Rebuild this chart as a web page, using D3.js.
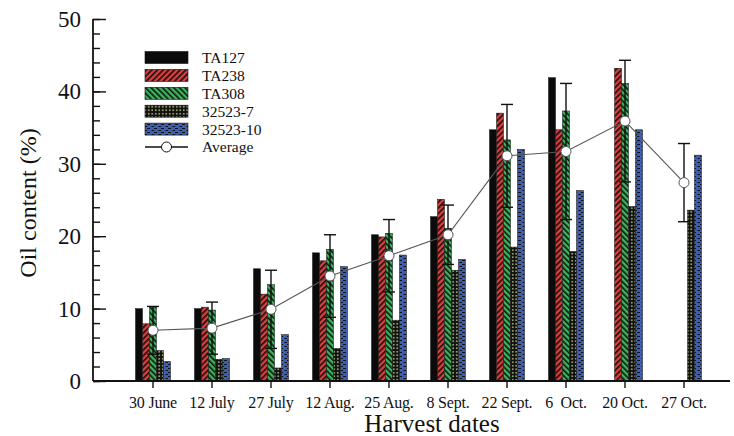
<!DOCTYPE html>
<html>
<head>
<meta charset="utf-8">
<script src="https://cdn.jsdelivr.net/npm/d3@7"></script>
<style>
  body { margin: 0; background: #fff; }
  svg { display: block; }
  text { font-family: "Liberation Serif", "Times New Roman", serif; fill: #111; }
  .domain { stroke: #111; stroke-width: 1.6; }
</style>
</head>
<body>
<div id="chart"></div>
<script>
// values (null = no bar)
const dates = ["30 June", "12 July", "27 July", "12 Aug.", "25 Aug.", "8 Sept.", "22 Sept.", "6  Oct.", "20 Oct.", "27 Oct."];
const seriesNames = ["TA127", "TA238", "TA308", "32523-7", "32523-10"];
const ta127 = [10.0, 10.0, 15.5, 17.7, 20.2, 22.7, 34.7, 41.9, null, null];
const ta238 = [7.9, 10.2, 12.0, 16.6, 19.9, 25.1, 37.0, 34.7, 43.2, null];
const ta308 = [10.2, 9.8, 13.3, 18.2, 20.4, 21.1, 33.3, 37.3, 41.1, null];
const s32523_7 = [4.2, 3.0, 1.8, 4.5, 8.4, 15.3, 18.5, 17.9, 24.1, 23.6];
const s32523_10 = [2.7, 3.1, 6.4, 15.8, 17.4, 16.8, 32.0, 26.3, 34.7, 31.2];
const average = [7.0, 7.3, 9.9, 14.5, 17.3, 20.2, 31.1, 31.7, 35.9, 27.4];
const averageErr = [3.3, 3.6, 5.4, 5.7, 5.0, 4.1, 7.1, 9.4, 8.4, 5.4];
const yTicks = [0, 10, 20, 30, 40, 50];

const width = 734, height = 436;
const seriesValues = [ta127, ta238, ta308, s32523_7, s32523_10];
const fills = ["#0b0b0b", "url(#pRed)", "url(#pGreen)", "url(#pDots)", "url(#pBlue)"];

const svg = d3.select("#chart").append("svg")
  .attr("width", width)
  .attr("height", height);

// patterns for the hatched bars
const defs = svg.append("defs");
let pr = defs.append("pattern").attr("id", "pRed").attr("patternUnits", "userSpaceOnUse")
  .attr("width", 4).attr("height", 4).attr("patternTransform", "rotate(45)");
pr.append("rect").attr("width", 4).attr("height", 4).attr("fill", "#d8413f");
pr.append("rect").attr("width", 1.6).attr("height", 4).attr("fill", "#1a0a0a");

let pg = defs.append("pattern").attr("id", "pGreen").attr("patternUnits", "userSpaceOnUse")
  .attr("width", 4).attr("height", 4).attr("patternTransform", "rotate(-45)");
pg.append("rect").attr("width", 4).attr("height", 4).attr("fill", "#3fb35e");
pg.append("rect").attr("width", 1.6).attr("height", 4).attr("fill", "#0a140c");

let pd = defs.append("pattern").attr("id", "pDots").attr("patternUnits", "userSpaceOnUse")
  .attr("width", 3.5).attr("height", 3.5);
pd.append("rect").attr("width", 3.5).attr("height", 3.5).attr("fill", "#111");
pd.append("circle").attr("cx", 1.75).attr("cy", 1.75).attr("r", 0.8).attr("fill", "#c9d98c");

let pb = defs.append("pattern").attr("id", "pBlue").attr("patternUnits", "userSpaceOnUse")
  .attr("width", 7).attr("height", 4);
pb.append("rect").attr("width", 7).attr("height", 4).attr("fill", "#3c5fb4");
pb.append("rect").attr("x", 0).attr("y", 0).attr("width", 3).attr("height", 1).attr("fill", "#111");
pb.append("rect").attr("x", 4.5).attr("y", 2).attr("width", 2.5).attr("height", 1).attr("fill", "#111");

// scales
let xScale = d3.scaleBand()
  .domain(dates)
  .range([123.5, 713.5])
  .padding(0);
let inner = d3.scaleBand()
  .domain(seriesNames)
  .range([-17.5, 17.5])
  .padding(0);
let yScale = d3.scaleLinear()
  .domain([0, 50])
  .range([381, 19]);
const cx = d => xScale(d) + xScale.bandwidth() / 2;

// bars
seriesNames.forEach(function (name, si) {
  let rows = dates.map((d, i) => ({ date: d, v: seriesValues[si][i] })).filter(r => r.v != null);
  svg.append("g").selectAll("rect")
    .data(rows)
    .enter().append("rect")
    .attr("x", r => cx(r.date) + inner(name))
    .attr("y", r => yScale(r.v))
    .attr("width", inner.bandwidth())
    .attr("height", r => yScale(0) - yScale(r.v))
    .attr("fill", fills[si])
    .attr("stroke", "#111")
    .attr("stroke-width", 0.5);
});

// error bars on the average
let eg = svg.append("g").attr("stroke", "#111").attr("stroke-width", 1.4);
dates.forEach(function (d, i) {
  let x = cx(d), top = yScale(average[i] + averageErr[i]), bot = yScale(average[i] - averageErr[i]);
  eg.append("line").attr("x1", x).attr("x2", x).attr("y1", top).attr("y2", bot);
  eg.append("line").attr("x1", x - 6).attr("x2", x + 6).attr("y1", top).attr("y2", top);
  eg.append("line").attr("x1", x - 6).attr("x2", x + 6).attr("y1", bot).attr("y2", bot);
});

// average line + circles
let line = d3.line().x((v, i) => cx(dates[i])).y(v => yScale(v));
svg.append("path")
  .attr("d", line(average))
  .attr("fill", "none")
  .attr("stroke", "#555")
  .attr("stroke-width", 1.1);
svg.append("g").selectAll("circle")
  .data(average)
  .enter().append("circle")
  .attr("cx", (v, i) => cx(dates[i]))
  .attr("cy", v => yScale(v))
  .attr("r", 5)
  .attr("fill", "#fff")
  .attr("stroke", "#555")
  .attr("stroke-width", 1);

// y axis: major ticks every 10, minor every 2, pointing inward
let yAxis = svg.append("g").attr("transform", "translate(93,0)");
yAxis.call(d3.axisRight(yScale).tickValues(d3.range(0, 51, 2)).tickSize(7).tickFormat(""));
yAxis.selectAll(".tick line").attr("stroke", "#111").attr("stroke-width", 1.4);
yAxis.select(".domain").remove();
let yMajor = svg.append("g").attr("transform", "translate(93,0)");
yMajor.call(d3.axisRight(yScale).tickValues(yTicks).tickSize(13).tickFormat(""));
yMajor.selectAll(".tick line").attr("stroke", "#111").attr("stroke-width", 1.4);
yMajor.select(".domain").remove();
svg.append("line").attr("x1", 93).attr("x2", 93).attr("y1", yScale(50)).attr("y2", yScale(0))
  .attr("stroke", "#111").attr("stroke-width", 1.8);
svg.append("g").selectAll("text")
  .data(yTicks)
  .enter().append("text")
  .attr("x", 81)
  .attr("y", d => yScale(d))
  .attr("dy", "0.35em")
  .attr("text-anchor", "end")
  .style("font-size", "23px")
  .text(d => d);

// x axis
svg.append("line").attr("x1", 93).attr("x2", 730).attr("y1", 381).attr("y2", 381)
  .attr("stroke", "#111").attr("stroke-width", 1.8);
let xAxis = svg.append("g").attr("transform", "translate(0,381)")
  .call(d3.axisBottom(xScale).tickSize(7).tickPadding(9));
xAxis.select(".domain").remove();
xAxis.selectAll(".tick line").attr("stroke", "#111").attr("stroke-width", 1.4);
xAxis.selectAll(".tick text")
  .style("font-size", "16px")
  .style("font-family", "\"Liberation Serif\", serif")
  .style("letter-spacing", "-0.2px")
  .attr("fill", "#111")
  .style("white-space", "pre");

// axis titles
svg.append("text")
  .attr("x", 432)
  .attr("y", 432)
  .attr("text-anchor", "middle")
  .style("font-size", "25px")
  .text("Harvest dates");
svg.append("text")
  .attr("transform", "rotate(-90)")
  .attr("x", -203)
  .attr("y", 36)
  .attr("text-anchor", "middle")
  .style("font-size", "24px")
  .text("Oil content (%)");

// legend
let legend = svg.append("g");
let rowY = i => 57.5 + i * 17.9;
seriesNames.forEach(function (name, i) {
  legend.append("rect")
    .attr("x", 145).attr("y", rowY(i) - 6)
    .attr("width", 43).attr("height", 12)
    .attr("fill", fills[i])
    .attr("stroke", "#111").attr("stroke-width", 0.6);
  legend.append("text")
    .attr("x", 202).attr("y", rowY(i)).attr("dy", "0.35em")
    .style("font-size", "15.5px")
    .text(name);
});
legend.append("line")
  .attr("x1", 145).attr("x2", 188).attr("y1", rowY(5)).attr("y2", rowY(5))
  .attr("stroke", "#111").attr("stroke-width", 1.4);
legend.append("circle")
  .attr("cx", 166.5).attr("cy", rowY(5)).attr("r", 5)
  .attr("fill", "#fff").attr("stroke", "#111").attr("stroke-width", 1);
legend.append("text")
  .attr("x", 202).attr("y", rowY(5)).attr("dy", "0.35em")
  .style("font-size", "15.5px")
  .text("Average");
</script>
</body>
</html>
